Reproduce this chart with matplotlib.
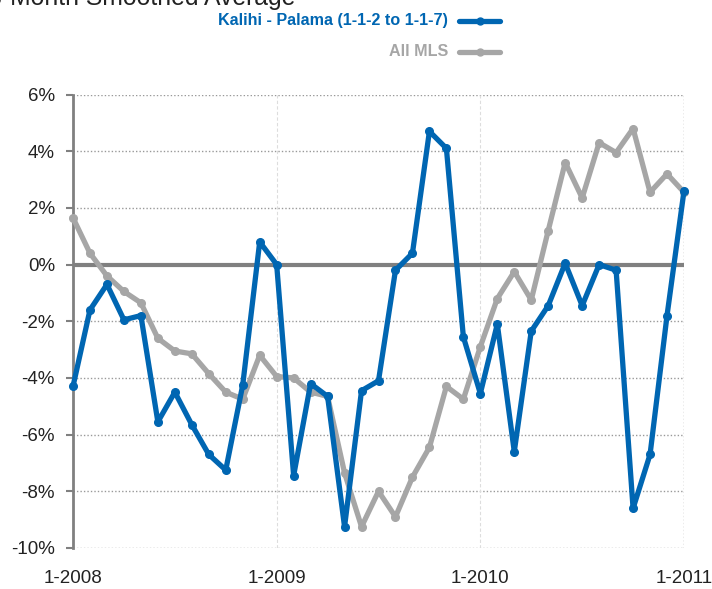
import matplotlib
matplotlib.use("Agg")
import matplotlib.pyplot as plt
from matplotlib.lines import Line2D
import numpy as np

months = list(range(37))
kalihi = [-4.3, -1.6, -0.7, -1.95, -1.8, -5.55, -4.5, -5.65, -6.7, -7.25, -4.25, 0.8,
          0.0, -7.45, -4.2, -4.65, -9.25, -4.45, -4.1, -0.2, 0.4, 4.7, 4.1, -2.55,
          -4.55, -2.1, -6.6, -2.35, -1.45, 0.05, -1.45, 0.0, -0.2, -8.6, -6.7, -1.8, 2.6]
all_mls = [1.65, 0.4, -0.4, -0.95, -1.35, -2.6, -3.05, -3.15, -3.85, -4.5, -4.75, -3.2,
           -3.95, -4.0, -4.5, -4.65, -7.35, -9.25, -8.0, -8.9, -7.5, -6.45, -4.3, -4.75,
           -2.9, -1.2, -0.25, -1.25, 1.2, 3.6, 2.35, 4.3, 3.95, 4.8, 2.55, 3.2, 2.55]
xtick_pos = [0, 12, 24, 36]
xtick_labels = ["1-2008", "1-2009", "1-2010", "1-2011"]
yticks = [6, 4, 2, 0, -2, -4, -6, -8, -10]
series_names = ["Kalihi - Palama (1-1-2 to 1-1-7)", "All MLS"]
title = "3-Month Smoothed Average"

BLUE = "#0066B2"
GRAY = "#A6A6A6"
FONT = ["Liberation Sans", "DejaVu Sans"]

W, H = 712, 589
fig = plt.figure(figsize=(W / 100, H / 100), dpi=100)
ax = fig.add_axes([73 / W, 1 - 548 / H, (684 - 73) / W, (548 - 94.5) / H])

ax.set_xlim(0, 36)
ax.set_ylim(-10, 6)

# grid
for y in yticks:
    if y == 0:
        continue
    ax.axhline(y, color="#999999", lw=1.0, ls=(0, (1, 1.5)), zorder=1)
for x in xtick_pos[1:3]:
    ax.axvline(x, color="#DDDDDD", lw=0.8, ls=(0, (3, 2)), zorder=1)
ax.axvline(36, color="#999999", lw=1.0, ls=(0, (1, 1.5)), zorder=1)
ax.axhline(0, color="#808080", lw=3.0, zorder=2)

ax.plot(months, all_mls, color=GRAY, lw=3.8, marker="o", ms=5.5, zorder=3, clip_on=False)
ax.plot(months, kalihi, color=BLUE, lw=3.8, marker="o", ms=5.5, zorder=4, clip_on=False)

for s in ["top", "right", "bottom"]:
    ax.spines[s].set_visible(False)
ax.spines["left"].set_color("#808080")
ax.spines["left"].set_linewidth(2.0)

ax.set_yticks(yticks)
ax.set_yticklabels([f"{v}%" for v in yticks], family=FONT, fontsize=13.5, color="#222222")
ax.tick_params(axis="y", length=5, width=1.5, color="#808080", pad=8)
ax.set_xticks(xtick_pos)
ax.set_xticklabels(xtick_labels, family=FONT, fontsize=13.5, color="#222222")
ax.tick_params(axis="x", length=0, pad=16)

# title (partially cut at the top, as in the reference)
fig.text(-12 / W, 1 - 4.5 / H, title, family=FONT, fontsize=17.8, color="#222222",
         ha="left", va="baseline")

# legend
leg_items = [(series_names[0], BLUE, 21), (series_names[1], GRAY, 52)]
for name, col, ypx in leg_items:
    fig.text(448 / W, 1 - ypx / H, name, family=FONT, fontsize=11.6, fontweight="bold",
             color=col, ha="right", va="center")
    fig.add_artist(Line2D([459 / W, 500 / W], [1 - ypx / H, 1 - ypx / H], color=col, lw=3.8,
                          solid_capstyle="round", transform=fig.transFigure))
    fig.add_artist(Line2D([479.5 / W], [1 - ypx / H], color=col, marker="o", ms=5,
                          transform=fig.transFigure))

fig.savefig("out.png", dpi=100)
